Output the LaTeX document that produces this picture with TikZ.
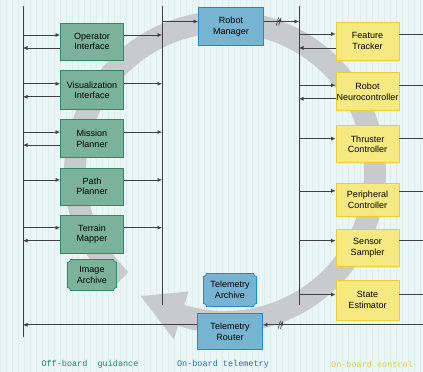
\documentclass[tikz,border=0pt]{standalone}
\usepackage{fontspec}
\newfontfamily\boxfont{Liberation Sans}
\newfontfamily\lblfont{Liberation Mono}
\usetikzlibrary{positioning,calc,arrows.meta}

\definecolor{bg}{RGB}{234,245,246}
\definecolor{gridc}{RGB}{222,238,240}
\definecolor{ringc}{RGB}{200,203,205}
\definecolor{gfill}{RGB}{122,178,155}
\definecolor{gdraw}{RGB}{45,140,100}
\definecolor{bfill}{RGB}{118,180,210}
\definecolor{bdraw}{RGB}{30,140,200}
\definecolor{yfill}{RGB}{246,233,130}
\definecolor{ydraw}{RGB}{236,206,50}
\definecolor{lnc}{RGB}{65,65,65}
\definecolor{gtext}{RGB}{40,130,100}
\definecolor{btext}{RGB}{40,110,165}
\definecolor{ytext}{RGB}{228,205,60}

\begin{document}
\begin{tikzpicture}[x=1pt, y=-1pt,
  box/.style={draw, line width=0.8pt, minimum width=63pt, minimum height=38pt, align=center, inner sep=0pt,
    font=\boxfont\fontsize{9}{10.5}\selectfont},
  guidebox/.style={box, fill=gfill, draw=gdraw},
  telebox/.style={box, fill=bfill, draw=bdraw},
  ctrlbox/.style={box, fill=yfill, draw=ydraw},
  arch/.style={box, draw=none, minimum width=50pt, minimum height=32pt, path picture={
    \filldraw[line width=0.8pt, #1]
      ([xshift=0.5pt,yshift=3.5pt]path picture bounding box.south west) arc[start angle=90, end angle=0, radius=3pt]
      -- ([xshift=-3.5pt,yshift=0.5pt]path picture bounding box.south east) arc[start angle=180, end angle=90, radius=3pt]
      -- ([xshift=-0.5pt,yshift=-3.5pt]path picture bounding box.north east) arc[start angle=270, end angle=180, radius=3pt]
      -- ([xshift=3.5pt,yshift=-0.5pt]path picture bounding box.north west) arc[start angle=0, end angle=-90, radius=3pt]
      -- cycle;}},
  bus/.style={line width=0.9pt, draw=lnc},
  wire/.style={line width=0.7pt, draw=lnc},
  arr/.style={wire, -{Latex[length=4.5pt,width=4pt]}},
  brk/.style={inner sep=0pt, minimum width=5pt, minimum height=8pt,
    path picture={\draw[wire] (path picture bounding box.south west) -- (path picture bounding box.north)
      (path picture bounding box.south) -- (path picture bounding box.north east);}},
  lbl/.style={font=\lblfont\fontsize{8.5}{10}\selectfont}
]
\useasboundingbox (0,0) rectangle (423,372);
\fill[bg] (0,0) rectangle (423,372);
\draw[gridc, line width=0.3pt, step=6] (0,0) grid (423,372);

% grey cycle arrow behind everything
\coordinate (ctr) at (225,172);
\fill[ringc] ($(ctr)+(134:161)$) arc[start angle=134, end angle=467, radius=161]
  -- ($(ctr)+(467:175)$) -- ($(ctr)+(484.2:150)$) -- ($(ctr)+(467:125)$) -- ($(ctr)+(467:139)$)
  arc[start angle=467, end angle=134, radius=139] -- cycle;

% buses
\coordinate (lbtop) at (23,6);  \coordinate (lbbot) at (23,337);
\coordinate (mbtop) at (162,6); \coordinate (mbbot) at (162,305);
\coordinate (rbtop) at (299,6); \coordinate (rbbot) at (299,305);
\coordinate (redge) at (423,6);
\draw[bus] (lbtop) -- (lbbot);
\draw[bus] (mbtop) -- (mbbot);
\draw[bus] (rbtop) -- (rbbot);

% off-board guidance
\node[guidebox, minimum height=37pt] (opint) at (92,41.5) {Operator\\Interface};
\node[guidebox, minimum height=39pt, below=10pt of opint] (visint) {Visualization\\Interface};
\node[guidebox, below=9pt of visint] (misplan) {Mission\\Planner};
\node[guidebox, minimum height=37pt, below=9.5pt of misplan] (pathplan) {Path\\Planner};
\node[guidebox, below=9.5pt of pathplan] (terrmap) {Terrain\\Mapper};
\node[arch={fill=gfill, draw=gdraw}, below=5pt of terrmap] (imgarch) {Image\\Archive};

% on-board telemetry
\node[telebox, minimum width=65pt] (rman) at (231,26.5) {Robot\\Manager};
\node[arch={fill=bfill, draw=bdraw}, minimum width=54pt, minimum height=34pt] (tarch) at (230,290) {Telemetry\\Archive};
\node[telebox, minimum width=65pt, minimum height=36pt, below=6pt of tarch] (trout) {Telemetry\\Router};

% on-board control
\node[ctrlbox] (feat) at (367.5,41) {Feature\\Tracker};
\node[ctrlbox, below=12pt of feat] (neuro) {Robot\\Neurocontroller};
\node[ctrlbox, minimum height=37pt, below=14pt of neuro] (thrust) {Thruster\\Controller};
\node[ctrlbox, minimum height=33pt, below=20pt of thrust] (periph) {Peripheral\\Controller};
\node[ctrlbox, minimum height=37pt, below=12pt of periph] (sensor) {Sensor\\Sampler};
\node[ctrlbox, minimum height=40pt, below=13pt of sensor] (state) {State\\Estimator};

% guidance links
\foreach \b in {opint,visint,misplan,pathplan,terrmap}{
  \draw[arr] ([yshift=6.5pt]\b.west -| lbtop) -- ([yshift=6.5pt]\b.west);
  \draw[arr] ([yshift=6.5pt]\b.east) -- ([yshift=6.5pt]\b.east -| mbtop);
}
\foreach \b in {opint,visint,misplan,terrmap}
  \draw[arr] ([yshift=-6.5pt]\b.west) -- ([yshift=-6.5pt]\b.west -| lbtop);

% control links
\foreach \b/\d in {feat/7,neuro/6.5,thrust/5.5,periph/9,sensor/7,state/5.5}{
  \draw[arr] ([yshift=\d pt]\b.west -| rbtop) -- ([yshift=\d pt]\b.west);
  \draw[wire] ([yshift=\d pt]\b.east) -- ([yshift=\d pt]\b.east -| redge);
}
\foreach \b in {feat,neuro}
  \draw[arr] ([yshift=-7pt]\b.west) -- ([yshift=-7pt]\b.west -| rbtop);

% telemetry links
\draw[arr] ([yshift=5pt]rman.west -| mbtop) -- ([yshift=5pt]rman.west);
\draw[arr] ([yshift=5pt]rman.east) -- node[brk, pos=0.42] (brktop) {} ([yshift=5pt]rman.east -| rbtop);
\draw[arr] ([yshift=7pt]trout.east -| redge) -- node[brk, pos=0.89] (brkbot) {} ([yshift=7pt]trout.east);
\draw[arr] ([yshift=7pt]trout.west) -- ([yshift=7pt]trout.west -| lbtop);

% column labels
\node[lbl, text=gtext] (offlbl) at (90,364) {Off-board\ \ guidance};
\node[lbl, text=btext] (telelbl) at (223,364) {On-board telemetry};
\node[lbl, text=ytext] (ctrllbl) at (372,364) {On-board control};

\end{tikzpicture}
\end{document}
